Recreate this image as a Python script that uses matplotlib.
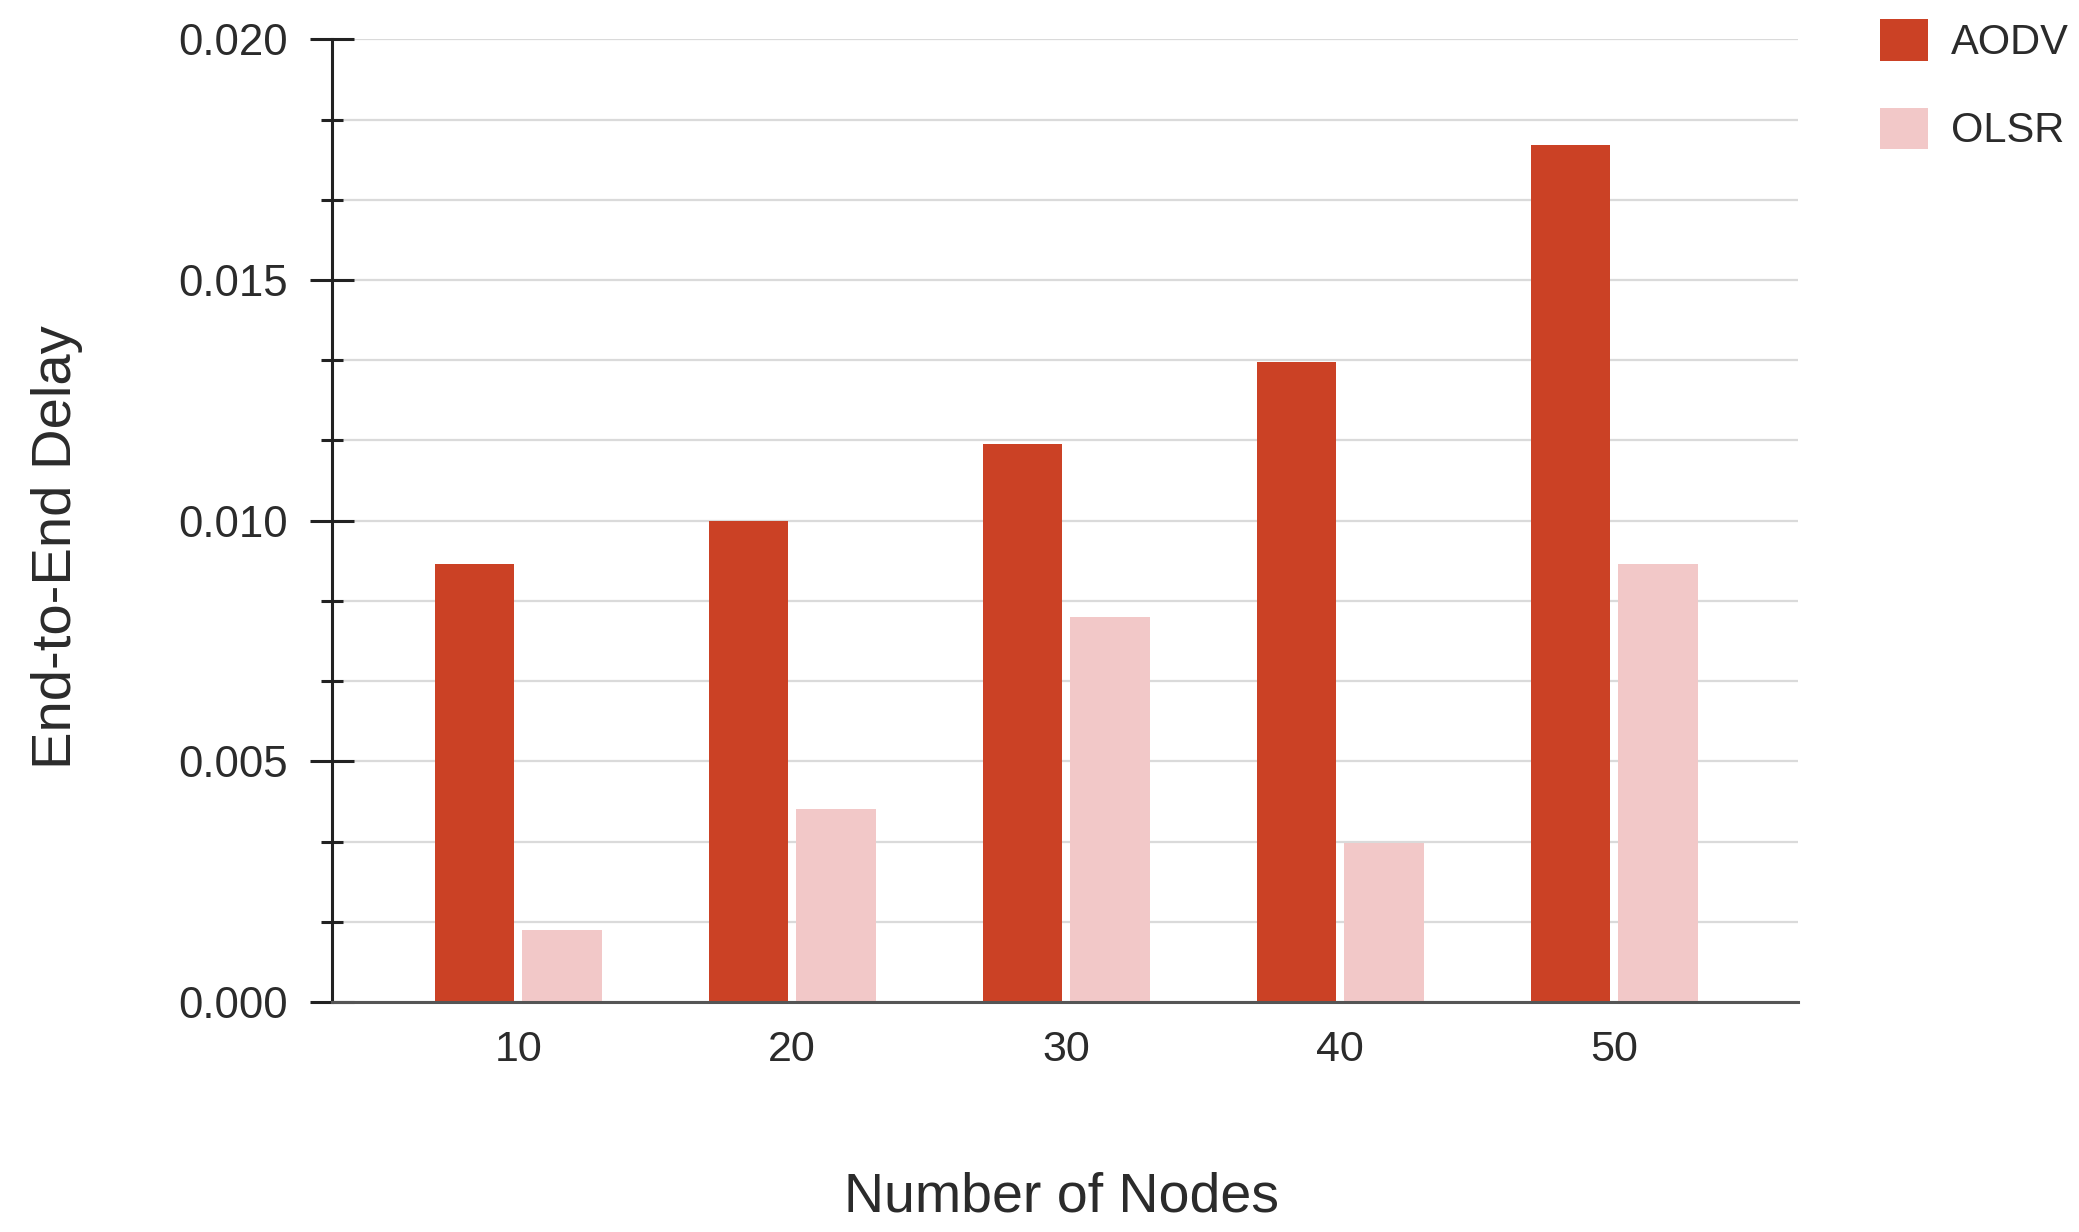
import matplotlib
matplotlib.use("Agg")
import matplotlib.pyplot as plt
import numpy as np
from matplotlib.patches import Patch
from matplotlib.ticker import MultipleLocator

# Average end-to-end delay per network size
nodes = ["10", "20", "30", "40", "50"]
aodv = [0.0091, 0.0100, 0.0116, 0.0133, 0.0178]
olsr = [0.0015, 0.0040, 0.0080, 0.0033, 0.0091]
series_names = ["AODV", "OLSR"]
y_ticks = [0.000, 0.005, 0.010, 0.015, 0.020]

AODV_COLOR = "#cb4125"
OLSR_COLOR = "#f2c8c8"
TEXT_COLOR = "#2b2b2b"
FONT = ["Liberation Sans", "DejaVu Sans"]
plt.rcParams["font.family"] = FONT

fig = plt.figure(figsize=(20.79, 12.32), dpi=100)
ax = fig.add_axes([0.1596, 0.1867, 0.8648 - 0.1596, 0.968 - 0.1867])

x = np.arange(len(nodes))
bw = 0.29
off = 0.16
ax.bar(x - off, aodv, width=bw, color=AODV_COLOR, zorder=3)
ax.bar(x + off, olsr, width=bw, color=OLSR_COLOR, zorder=3)

ax.set_xlim(-0.68, 4.67)
ax.set_ylim(0, 0.020)
ax.set_xticks(x)
ax.set_xticklabels(nodes)
ax.set_yticks(y_ticks)
ax.set_yticklabels([f"{v:.3f}" for v in y_ticks])
ax.yaxis.set_minor_locator(MultipleLocator(0.020 / 12))

ax.tick_params(axis="x", length=0, pad=20, labelsize=31, labelcolor=TEXT_COLOR)
ax.tick_params(axis="y", which="major", direction="inout", length=31, width=2.2,
               color="#222222", pad=16, labelsize=31.5, labelcolor=TEXT_COLOR)
ax.tick_params(axis="y", which="minor", direction="inout", length=16.5, width=2.2,
               color="#222222")

ax.yaxis.grid(True, which="both", color="#dadada", linewidth=1.6, zorder=0)
ax.set_axisbelow(True)
for s in ["top", "right"]:
    ax.spines[s].set_visible(False)
ax.spines["left"].set_color("#222222")
ax.spines["left"].set_linewidth(2.2)
ax.spines["bottom"].set_color("#555555")
ax.spines["bottom"].set_linewidth(2.2)
ax.spines["left"].set_zorder(4)
ax.spines["bottom"].set_zorder(4)

fig.text(1062 / 2079, 1 - 1197 / 1232, "Number of Nodes", ha="center", va="center",
         fontsize=40, color=TEXT_COLOR)
fig.text(57 / 2079, 1 - 547 / 1232, "End-to-End Delay", ha="center", va="center",
         rotation=90, fontsize=40.5, color=TEXT_COLOR)

handles = [Patch(facecolor=AODV_COLOR, label=series_names[0]),
           Patch(facecolor=OLSR_COLOR, label=series_names[1])]
fig.legend(handles=handles, loc="upper left", bbox_to_anchor=(1872 / 2079, 1 - 11 / 1232),
           frameon=False, fontsize=30, handlelength=1.15, handleheight=1.15,
           handletextpad=0.55, labelspacing=1.07, borderaxespad=0, borderpad=0.2,
           labelcolor=TEXT_COLOR)

fig.savefig("out.png", dpi=100, facecolor="white")
